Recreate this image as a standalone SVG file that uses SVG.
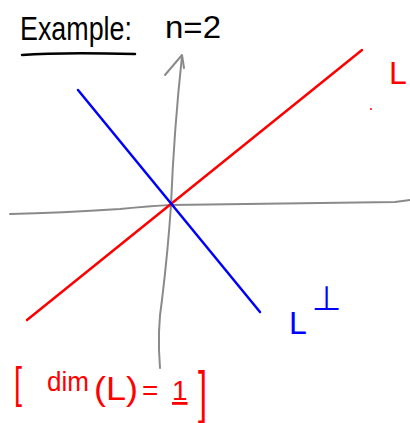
<svg xmlns="http://www.w3.org/2000/svg" width="410" height="423" viewBox="0 0 410 423">
<style>
.ax{fill:none;stroke:#8a8a8a;stroke-width:2;stroke-linecap:round;stroke-linejoin:round}
.red{fill:none;stroke:#ff0000;stroke-width:2.5;stroke-linecap:round}
.blue{fill:none;stroke:#0000ff;stroke-width:2.5;stroke-linecap:round}
.t{font-family:"Liberation Sans","DejaVu Sans",sans-serif}
.tk{fill:#000}
.tr{fill:#ff0000}
.tb{fill:#0000ff}
</style>
<rect width="410" height="423" fill="#ffffff"/>
<g id="title">
<text class="t tk" x="20" y="40" font-size="34" textLength="112" lengthAdjust="spacingAndGlyphs">Example:</text>
<path d="M22,55 Q60,52 135,54" fill="none" stroke="#000" stroke-width="2.5" stroke-linecap="round"/>
<text class="t tk" x="165" y="38" font-size="32" textLength="56" lengthAdjust="spacingAndGlyphs">n=2</text>
</g>
<g id="connectors">
<path id="y-axis" class="ax" d="M160,368 Q157,330 162,300 Q168,250 171,205 Q174,130 182,56"/>
<path id="y-arrow" class="ax" d="M165,75 L182,55 L184,68"/>
<path id="x-axis" class="ax" d="M10,214 Q60,213 120,209 Q150,206 171,205 Q300,203 395,202 L410,200"/>
<path id="line-L" class="red" d="M27,320 L362,50"/>
<path id="line-Lperp" class="blue" d="M78,90 L260,312"/>
</g>
<g id="label-L">
<text class="t tr" x="389" y="84" font-size="32">L</text>
<circle cx="371" cy="109" r="1" fill="#ff0000"/>
</g>
<g id="label-Lperp">
<text class="t tb" x="289" y="334" font-size="32">L<tspan font-size="34" dx="5" dy="-24">⊥</tspan></text>
</g>
<g id="dim-label">
<text class="t tr" transform="translate(14,398) scale(0.8,1.25)" x="0" y="0" font-size="36">[</text>
<text class="t tr" x="47" y="391" font-size="27" textLength="42" lengthAdjust="spacingAndGlyphs">dim</text>
<text class="t tr" x="94" y="400" font-size="34" textLength="44" lengthAdjust="spacingAndGlyphs">(L)</text>
<text class="t tr" x="142" y="400" font-size="28">=</text>
<text class="t tr" x="172" y="400" font-size="28" text-decoration="underline">1</text>
<text class="t tr" transform="translate(198,412) scale(0.9,1.6)" x="0" y="0" font-size="36">]</text>
</g>
</svg>
